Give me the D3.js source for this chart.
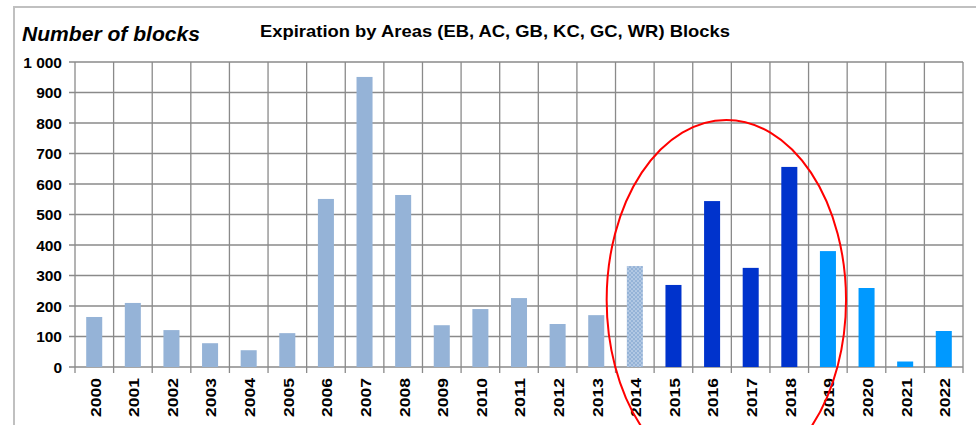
<!DOCTYPE html>
<html>
<head>
<meta charset="utf-8">
<script src="https://cdn.jsdelivr.net/npm/d3@7"></script>
<style>
  body{margin:0;background:#fff;}
  svg text{font-family:"Liberation Sans",Arial,sans-serif;font-weight:bold;fill:#000;}
</style>
</head>
<body>
<svg width="976" height="425"></svg>
<script>
const years=['2000','2001','2002','2003','2004','2005','2006','2007','2008','2009','2010','2011',
  '2012','2013','2014','2015','2016','2017','2018','2019','2020','2021','2022'];
const blocks=[164,210,121,78,55,111,551,951,564,137,190,226,141,170,331,269,544,325,656,380,259,18,118];
// group of each year: past, current (dotted), planned, later
const groups=['a','a','a','a','a','a','a','a','a','a','a','a','a','a','b','c','c','c','c','d','d','d','d'];
const yTicks=[0,100,200,300,400,500,600,700,800,900,1000];

const svg=d3.select('svg');
const margin={top:62,right:13,bottom:58,left:75};
const width=+svg.attr('width'), height=+svg.attr('height');
const innerW=width-margin.left-margin.right;   // 888
const innerH=height-margin.top-margin.bottom;  // 305

// dotted fill for 2014
const defs=svg.append('defs');
const pat=defs.append('pattern').attr('id','dots')
  .attr('width',4).attr('height',4).attr('patternUnits','userSpaceOnUse');
pat.append('rect').attr('width',4).attr('height',4).attr('fill','#95b3d7');
pat.append('circle').attr('cx',1).attr('cy',1).attr('r',0.75).attr('fill','#dde8f5');
pat.append('circle').attr('cx',3).attr('cy',3).attr('r',0.75).attr('fill','#dde8f5');

const color=d3.scaleOrdinal().domain(['a','b','c','d'])
  .range(['#95b3d7','url(#dots)','#0033cc','#0099ff']);

// outer frame (top and left edges visible)
svg.append('path').attr('d',`M14,${height}V7H${width}`)
  .attr('fill','none').attr('stroke','#c0c0c0').attr('stroke-width',2);

const x=d3.scaleBand().domain(years).range([0,innerW]).paddingInner(0.585).paddingOuter(0.29);
const xg=d3.scaleLinear().domain([0,years.length]).range([0,innerW]);
const y=d3.scaleLinear().domain([0,1000]).range([innerH,0]);

const g=svg.append('g').attr('transform',`translate(${margin.left},${margin.top})`);

// horizontal gridlines with tick
g.append('g').selectAll('line').data(yTicks).join('line')
  .attr('x1',-6).attr('x2',innerW)
  .attr('y1',d=>y(d)).attr('y2',d=>y(d))
  .attr('stroke','#8a8a8a').attr('stroke-width',1.3);
// vertical gridlines at category boundaries
g.append('g').selectAll('line').data(d3.range(years.length+1)).join('line')
  .attr('x1',d=>xg(d)).attr('x2',d=>xg(d))
  .attr('y1',0).attr('y2',innerH+6)
  .attr('stroke','#8a8a8a').attr('stroke-width',1.3);

// bars
g.append('g').selectAll('rect').data(years).join('rect')
  .attr('x',d=>x(d)).attr('width',x.bandwidth())
  .attr('y',(d,i)=>y(blocks[i])).attr('height',(d,i)=>y(0)-y(blocks[i]))
  .attr('fill',(d,i)=>color(groups[i]));

// y labels
g.append('g').selectAll('text').data(yTicks).join('text')
  .attr('x',-13).attr('y',d=>y(d)).attr('dy','0.36em')
  .attr('text-anchor','end').attr('font-size',15.5)
  .text(d=>d3.format(',')(d).replace(',',' '));

// x labels rotated
g.append('g').selectAll('text').data(years).join('text')
  .attr('transform',d=>`translate(${x(d)+x.bandwidth()/2+1},${innerH+11}) rotate(-90)`)
  .attr('dy','0.36em').attr('text-anchor','end').attr('font-size',15)
  .attr('textLength',39).attr('lengthAdjust','spacingAndGlyphs')
  .text(d=>d);

// red annotation ellipse around 2014-2019
const step=xg(1)-xg(0);
g.append('ellipse')
  .attr('cx',xg(17)-5).attr('cy',y(220))
  .attr('rx',step*3.1).attr('ry',y(220)-y(810))
  .attr('fill','none').attr('stroke','#ff0000').attr('stroke-width',2);

// titles
svg.append('text').attr('x',22).attr('y',41).attr('font-size',20)
  .attr('font-style','italic').attr('textLength',178).attr('lengthAdjust','spacingAndGlyphs')
  .text('Number of blocks');
svg.append('text').attr('x',260).attr('y',37).attr('font-size',17)
  .attr('textLength',470).attr('lengthAdjust','spacingAndGlyphs')
  .text('Expiration by Areas (EB, AC, GB, KC, GC, WR) Blocks');
</script>
</body>
</html>
